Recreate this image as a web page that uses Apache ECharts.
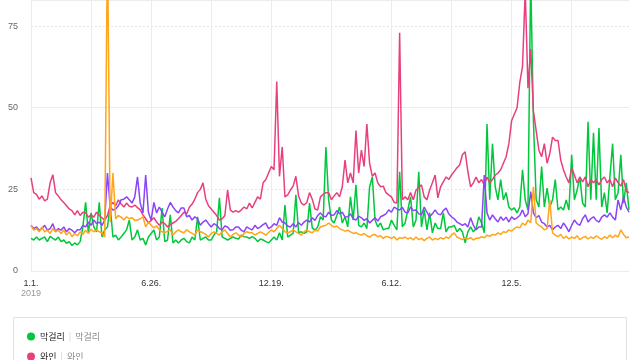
<!DOCTYPE html>
<html><head><meta charset="utf-8">
<script src="https://cdn.jsdelivr.net/npm/echarts@6/dist/echarts.min.js"></script>
<style>html,body{margin:0;padding:0;background:#fff}#c{width:640px;height:360px}</style>
</head><body><div id="c"></div>
<script>
var startDate = '2019-01-01';
var stepDays = 4;
var tickLabels = ['1.1.', '6.26.', '12.19.', '6.12.', '12.5.'];
var firstYear = '2019';
var seriesNames = ['막걸리', '와인', '맥주', '소주'];

var makgeolli = [10,9.5,10.4,9.5,10,10.4,9,10.6,10,9.5,10.4,9,9.5,8.5,9,7.8,8.6,8,9,13.5,
21,11.7,17.8,13.5,12,21,10.4,12.6,13.5,20,10.4,11,9.5,10.4,11.5,12.6,15.6,9.5,10.4,12.6,
9.5,10,8,10.4,11.5,12.6,9.5,10.4,19.3,9,9.5,17.2,8.6,9.5,8.6,9.5,10,9,8.6,10.4,
9.5,16.6,9.5,10,10.4,9.5,9.5,11,12,22.4,10.4,10,9.5,10,10.4,10,9.8,11,10.5,10.4,
10,10.5,10,9,9.8,9.5,9,8.6,9.5,10.4,9.5,11.7,9.5,20.2,10.4,11,11.5,23.3,11.7,12,
11.5,12,20.8,13.2,12.5,13.5,16.6,15.6,38,21.8,15.6,14.7,17,19.6,14.7,16.6,13.5,22.7,15.6,26.4,
14,13.5,14.7,13,25.8,28.8,15.6,13.5,14.7,12.6,13,13,15.6,14,12.6,30.4,13.5,14.7,18.7,22.7,
13.5,15.6,30.4,13.5,18.7,12.6,17.8,11.7,14.7,13,13,17.8,12,13.5,13.5,14,12,13,12,8.6,
12,13.5,12,13,16.6,14.7,11.7,45,21.8,39,25.8,21.8,28,21.8,24,19.6,18.7,19.3,17.8,19.6,
31,21.8,18.7,90,46,21.8,19.6,32,19.6,25.4,19.6,21.8,28,18.7,19.6,18.7,21.8,18.7,35.6,21.8,
24.8,28.8,20.8,19.6,45.7,21.8,42.3,21.8,43.8,19.6,24,17.8,28.8,39,21.8,24,35.6,20.8,27,18.7];

var wine = [28.5,24,23.5,22,23,21.5,22,27,29.5,24,23,21.8,21,20,19,18.5,17.2,18.5,17,18,
17.8,16.5,17.2,16.5,18,17,16.3,15.6,17,20,21,20,21.8,20.5,19.6,20.8,19.8,19.6,20.2,19.4,
18.7,17.2,16,14.7,15.5,16.3,15,14,15,14.5,13.5,14.2,14.7,15.2,16,17,18,17.5,19.5,20.5,
22,24,25,27,22,20,19,18,17,15.6,16,17,24.8,18.7,18,18.5,18,18.7,19.6,19,
20.8,19.3,21,22.7,22,27,28,30,32,31,58,29,38,22.7,23.3,24.8,26,29,23,20.8,
20.2,21,24,22,19,18.7,22.7,23.5,24,24,21.8,23,24,22.7,25.8,34,27,30,27,43,
30,37,32,45,33,29,30,27,25.8,26,24,23.3,22.7,21,20.8,73,21.8,22.7,21.8,24,
21.8,24.8,25.5,26.4,22.7,21.8,24.8,27,29.4,22.4,25.8,27.3,28.8,28,29.4,30.5,31.6,32.5,35.6,36.5,
30.4,25.8,27,28.8,27,28,26.4,28.8,27,28,29.4,30,31,33,35,39,46,48,50,57.7,
62.6,86,56,68,49,43,37,35,39,33,36,41,40,40,34,31,28.8,27,31.6,29.4,
27,28.8,27.3,28.8,25.8,28,27,28,26.4,28,28.8,27,28,25.8,28.5,27,26,28,24.5,24];

var beer = [14,13,13.5,12.5,13,14,12.5,13,14.5,12,13,12.5,13.5,12,13,12.5,11.7,12.6,12.6,14,
13.5,15,14,15.6,14.5,15,14,15.6,30,19.6,18.7,19,20,21.8,22,22.7,21.8,20.8,22.7,28.8,
20.8,17.8,29.4,18,15.6,21,17.8,19.6,18,16.6,19,21,19.6,18.5,17.8,19.3,19.3,16.6,17,15.6,
16.6,16,14,15,15.6,14.5,13.5,14.5,14,13,12.6,13.8,13.5,12.5,12.6,13.5,13.5,12.5,12,13.5,
13,12.6,14,13,13.5,14.2,14.7,13,13.5,14.5,14,16.3,15,14.7,13.8,13.5,14.5,13.5,14.8,14,
15,15.6,15,16.3,15.5,17,17.8,16.8,16.6,18,17,17.2,18.5,17.5,18,16.5,16.6,17.5,16,15.6,
16.8,16.3,15.5,16,14.7,15.5,16.3,15.3,16.6,17,17.5,18.7,18,19.6,19,18.7,19.5,18,17.8,19.6,
18.5,18.7,17.5,17.2,19.6,18,16.6,17.5,18.7,17.5,17.2,18.5,19.3,17.5,16.6,16,15,14.5,14,14.5,
13.5,16.3,14,12.6,13.5,13.5,29.4,17.8,15.6,17.2,16,15,16.6,15.5,16.5,15,16.6,15.8,16.3,17,
18.7,16.6,17.5,24.3,17.8,16.3,17,15,14.5,13.5,14,12.6,13.5,14,13,14.7,13.5,12,14,15.6,
14.5,14,16,17.2,15,16,16.6,15.5,15,16.5,17.2,16.5,17.8,16.5,15.6,21.8,18.7,22.7,19.6,18];

var soju = [14,12.5,13,12,13.5,12,12.5,11.5,13,12,12.5,11.5,12.5,11,12,10.5,11.5,10.8,12,11.2,
12.5,11.5,12.8,12,12.6,12,11.7,10.4,100,15,30,16,17,16.5,15.6,16.6,16,16.3,15.5,15.6,
16,16.6,13.5,15,14,13.2,13.8,12.6,12,11.7,12.2,12.6,11,12,12.6,12,11.7,12.6,12,11.5,
11,12.6,12,11.7,11.2,10.4,11.5,12,11.5,11,12,12.6,11.5,10.4,11.2,11.7,11,10.4,11.5,12,
11.7,11.7,11,11.5,12,11.5,11,11.8,12.6,12,13,14,13,12,11.7,12,12.6,12,11.5,11,
12,12.6,12,11.7,12.5,12.2,13.5,13.8,14,14.7,14,13.5,13.8,13,12.6,12.2,12.5,12,11.5,11.7,
11.3,11,11.5,10.8,10.4,11,11.2,10.5,10.8,10,10.6,10.4,10,10.5,9.5,10.2,10,10.4,9.8,10.2,
9.5,10.4,9.6,10,9.3,10,10.4,9.5,10,9.6,10.2,9.8,10.4,10,11,11.7,10.4,10,9.6,10.2,
9.8,10.2,9.5,10,10,10.5,10.2,11,10.6,11.2,11,11.7,11.2,12,11.8,12.6,12.2,13,13.5,13.2,
14.7,14,15.6,14.8,25.8,14.7,14,13.5,12.6,13,21.8,11.7,11,10.5,11.2,10,10.6,9.8,10.4,10,
10.8,9.6,10.2,10.6,9.8,10.4,10,10.8,10.2,9.7,10.5,10,11,10.2,11,10.4,12.6,11.2,10.2,10.4];

var colors = ['#00c73c', '#e8407f', '#8b45f6', '#ffa41b'];

var categories = [];
(function(){
  var d0 = new Date(startDate + 'T00:00:00Z');
  for (var i = 0; i < makgeolli.length; i++) {
    var d = new Date(d0.getTime() + i * stepDays * 86400000);
    categories.push((d.getUTCMonth() + 1) + '.' + d.getUTCDate() + '.');
  }
})();

var chart = echarts.init(document.getElementById('c'), null, {renderer: 'canvas'});
var dataSets = [makgeolli, wine, beer, soju];
var series = dataSets.map(function (arr, k) {
  return {
    name: seriesNames[k], type: 'line', data: arr, yAxisIndex: 0,
    showSymbol: false, symbol: 'none', clip: true,
    lineStyle: {width: 1.5, color: colors[k]}, itemStyle: {color: colors[k]},
    z: 2 + k
  };
});

chart.setOption({
  animation: false,
  color: colors,
  grid: {left: 31, right: 11, top: 0, bottom: 89, containLabel: false},
  xAxis: {
    type: 'category', data: categories, boundaryGap: false,
    axisLine: {show: false}, axisTick: {show: false},
    splitLine: {show: true, interval: 21, lineStyle: {color: '#ececec', width: 1}},
    axisLabel: {
      interval: 43, margin: 8, fontSize: 9, color: '#333', fontFamily: 'Liberation Sans, Arial, sans-serif',
      lineHeight: 10,
      formatter: function (v, idx) {
        var n = Math.round(idx / 44);
        var t = tickLabels[n] !== undefined ? tickLabels[n] : v;
        return idx === 0 ? t + '\n{y|' + firstYear + '}' : t;
      },
      rich: {y: {fontSize: 9, color: '#999', lineHeight: 10, fontFamily: 'Liberation Sans, Arial, sans-serif'}}
    }
  },
  yAxis: [{
    type: 'value', min: 0, max: 83, interval: 25,
    axisLine: {show: false}, axisTick: {show: false},
    splitLine: {show: true, lineStyle: {color: '#e6e6e6', type: [2, 2], width: 1}},
    axisLabel: {showMaxLabel: false, margin: 13, fontSize: 9, color: '#666', fontFamily: 'Liberation Sans, Arial, sans-serif'}
  }, {
    type: 'value', min: 0, max: 83, interval: 50, position: 'left',
    axisLine: {show: false}, axisTick: {show: false}, axisLabel: {show: false},
    splitLine: {show: true, lineStyle: {color: '#ececec', type: 'solid', width: 1}}
  }],
  legend: {
    type: 'plain', orient: 'vertical', left: 27, top: 332, height: 200, width: 300, itemGap: 11,
    padding: 0,
    icon: 'circle', itemWidth: 8, itemHeight: 8,
    selectedMode: false,
    data: seriesNames,
    formatter: function (name) { return name + ' {sep||} {sub|' + name + '}'; },
    textStyle: {
      fontSize: 9, color: '#222', fontFamily: 'Noto Sans CJK KR, sans-serif',
      rich: {
        sep: {color: '#d0d0d0', fontSize: 9, padding: [0, 2, 0, 2]},
        sub: {color: '#888', fontSize: 9, fontFamily: 'Noto Sans CJK KR, sans-serif'}
      }
    }
  },
  graphic: [{
    type: 'rect', silent: true, z: -1,
    shape: {x: 13.5, y: 317.5, width: 613, height: 80},
    style: {fill: 'none', stroke: '#e2e2e2', lineWidth: 1}
  }],
  series: series
});
</script></body></html>
